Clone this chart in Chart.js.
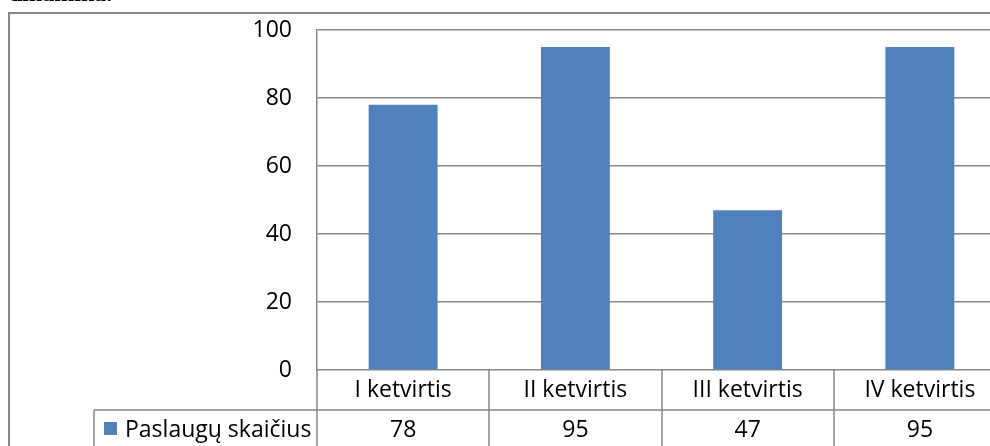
<!DOCTYPE html>
<html>
<head>
<meta charset="utf-8">
<script src="https://cdn.jsdelivr.net/npm/chart.js@4/dist/chart.umd.min.js"></script>
<style>
  html, body { margin: 0; padding: 0; background: #fff; overflow: hidden; }
  #wrap { position: absolute; left: 0; top: 0; width: 1020px; height: 480px; }
</style>
</head>
<body>
<div id="wrap"><canvas id="chart" width="1020" height="480"></canvas></div>
<script>
const categories = ["I ketvirtis", "II ketvirtis", "III ketvirtis", "IV ketvirtis"];
const seriesName = "Paslaugų skaičius";
const values = [78, 95, 47, 95];
const yTicks = [0, 20, 40, 60, 80, 100];

const gridColor = "#878787";
const barColor = "#4f81bd";
const fontFamily = "'Open Sans', Lato, sans-serif";

// draws the frame, the clipped heading and the data table under the plot
const tablePlugin = {
  id: "dataTable",
  afterDraw(chart) {
    const ctx = chart.ctx;
    const x = chart.scales.x;
    const area = chart.chartArea;
    const catW = (area.right - area.left) / categories.length;
    const row1Top = area.bottom, row2Top = area.bottom + 40, row2Bot = area.bottom + 80;
    const tableLeft = 94;

    ctx.save();
    // outer frame
    ctx.strokeStyle = gridColor;
    ctx.lineWidth = 2;
    ctx.beginPath();
    ctx.moveTo(9, chart.height);
    ctx.lineTo(9, 13);
    ctx.lineTo(chart.width, 13);
    ctx.stroke();

    // heading cut off by the page edge
    ctx.fillStyle = "#000";
    ctx.font = "bold 24px 'Liberation Serif', serif";
    ctx.textBaseline = "alphabetic";
    ctx.textAlign = "left";
    ctx.fillText("dinamika.", 9, 1);

    // table lines
    ctx.lineWidth = 1.5;
    ctx.beginPath();
    for (let i = 0; i <= categories.length; i++) {
      const bx = Math.round(area.left + i * catW);
      ctx.moveTo(bx, row1Top);
      ctx.lineTo(bx, row2Bot);
    }
    ctx.moveTo(tableLeft, row2Top);
    ctx.lineTo(area.right, row2Top);
    ctx.moveTo(tableLeft, row2Top);
    ctx.lineTo(tableLeft, row2Bot);
    ctx.moveTo(tableLeft, row2Bot);
    ctx.lineTo(area.right, row2Bot);
    ctx.stroke();

    // labels and values
    ctx.fillStyle = "#000";
    ctx.font = "23px " + fontFamily;
    ctx.textAlign = "center";
    ctx.textBaseline = "middle";
    categories.forEach((c, i) => {
      const cx = x.getPixelForValue(i);
      ctx.fillText(c, cx, row1Top + 20);
      ctx.fillText(String(values[i]), cx, row2Top + 20);
    });

    // legend key
    ctx.fillStyle = barColor;
    ctx.fillRect(104, row2Top + 12, 13, 13);
    ctx.fillStyle = "#000";
    ctx.textAlign = "left";
    ctx.fillText(seriesName, 125, row2Top + 20);
    ctx.restore();
  }
};

new Chart(document.getElementById("chart").getContext("2d"), {
  type: "bar",
  data: {
    labels: categories,
    datasets: [{
      label: seriesName,
      data: values,
      backgroundColor: barColor,
      categoryPercentage: 1,
      barPercentage: 0.4
    }]
  },
  options: {
    responsive: false,
    animation: false,
    layout: { padding: { left: 237, right: 14, top: 30, bottom: 110 } },
    plugins: { legend: { display: false }, tooltip: { enabled: false } },
    scales: {
      x: { display: false },
      y: {
        min: 0,
        max: 100,
        afterFit(scale) { scale.width = 80; scale.paddingTop = 0; scale.paddingBottom = 0; },
        afterBuildTicks(scale) { scale.ticks = yTicks.map(v => ({ value: v })); },
        ticks: { color: "#000", padding: 25, font: { size: 23, family: fontFamily } },
        grid: { color: gridColor, lineWidth: 1.5, drawTicks: false },
        border: { color: gridColor, width: 1.5 }
      }
    }
  },
  plugins: [tablePlugin]
});
</script>
</body>
</html>
